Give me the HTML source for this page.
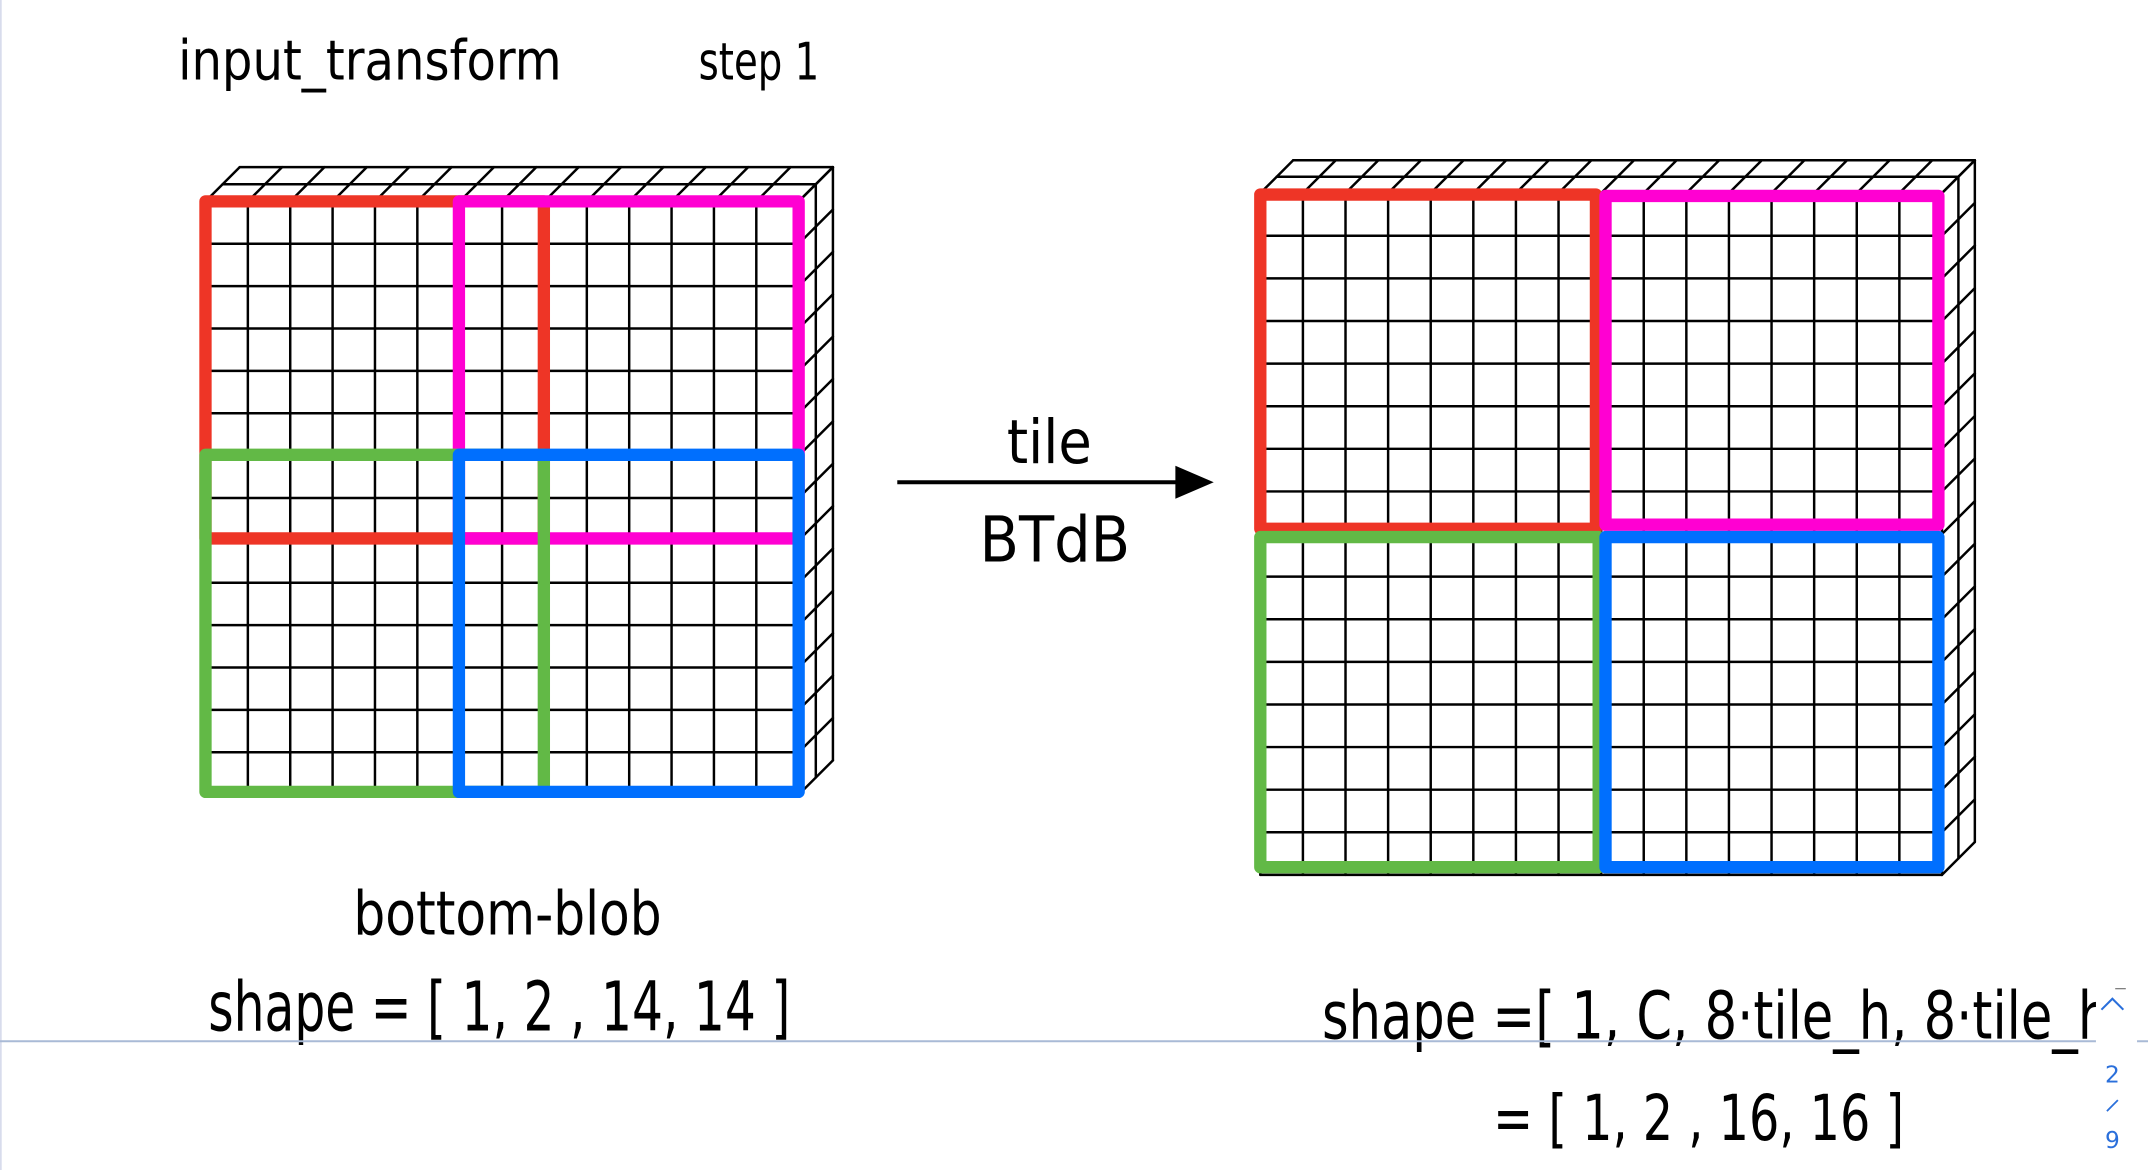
<!DOCTYPE html>
<html><head><meta charset="utf-8">
<style>
html,body{margin:0;padding:0;background:#fff;}
svg{display:block;}
text{font-family:"DejaVu Sans","Liberation Sans",sans-serif;fill:#000;}
</style></head>
<body>
<svg id="s" width="2148" height="1170" viewBox="0 0 1568 854" preserveAspectRatio="none">
<rect x="0" y="0" width="1568" height="854" fill="#fff"/>
<line x1="0.5" y1="0" x2="0.5" y2="854" stroke="#d8dcec" stroke-width="1.5"/>
<g id="grids"></g>
<g id="boxes"></g>
<text x="130" y="58" font-size="40" textLength="280" lengthAdjust="spacingAndGlyphs">input_transform</text>
<text x="510" y="58" font-size="38" textLength="88" lengthAdjust="spacingAndGlyphs">step 1</text>
<text x="735" y="338" font-size="44" textLength="62" lengthAdjust="spacingAndGlyphs">tile</text>
<line x1="655" y1="352" x2="862" y2="352" stroke="#000" stroke-width="3"/>
<polygon points="858,340 886,352 858,364" fill="#000"/>
<text x="715" y="410" font-size="46" textLength="110" lengthAdjust="spacingAndGlyphs">BTdB</text>
<text x="258" y="682" font-size="44" textLength="225" lengthAdjust="spacingAndGlyphs">bottom-blob</text>
<text x="152" y="752" font-size="50" textLength="425" lengthAdjust="spacingAndGlyphs">shape = [ 1, 2 , 14, 14 ]</text>
<text x="965" y="758" font-size="48" textLength="590" lengthAdjust="spacingAndGlyphs">shape =[ 1, C, 8·tile_h, 8·tile_h]</text>
<text x="1090" y="832" font-size="46" textLength="300" lengthAdjust="spacingAndGlyphs">= [ 1, 2 , 16, 16 ]</text>
<line x1="0" y1="760" x2="1568" y2="760" stroke="#a9bad6" stroke-width="1.5"/>
<rect x="1530" y="722" width="30" height="132" fill="#fff"/>
<polyline points="1534,737 1542,729 1550,737" fill="none" stroke="#2a6fdb" stroke-width="1.5"/>
<text x="1542" y="790" font-size="17" text-anchor="middle" style="fill:#2a6fdb">2</text>
<line x1="1538" y1="811" x2="1546" y2="803" stroke="#2a6fdb" stroke-width="1.3"/>
<text x="1542" y="838" font-size="17" text-anchor="middle" style="fill:#2a6fdb">9</text>
</svg>
<script>
const NS='http://www.w3.org/2000/svg';
const gridSpecs=[{name:'input-grid',x:150,y:147,n:14,c:30.93,d:12.5},{name:'output-grid',x:920,y:141,n:16,c:31.1,d:12}];
const boxSpecs=[
 {name:'left-tile-red',col:'#ee3526',x1:150,y1:147,x2:397,y2:393},
 {name:'left-tile-magenta',col:'#ff00d2',x1:335,y1:147,x2:583,y2:393},
 {name:'left-tile-green',col:'#62b946',x1:150,y1:332,x2:397,y2:578},
 {name:'left-tile-blue',col:'#006ffe',x1:335,y1:332,x2:583,y2:578},
 {name:'right-tile-red',col:'#ee3526',x1:920,y1:142,x2:1165,y2:386},
 {name:'right-tile-magenta',col:'#ff00d2',x1:1172,y1:143,x2:1415,y2:383},
 {name:'right-tile-green',col:'#62b946',x1:920,y1:392,x2:1167,y2:633},
 {name:'right-tile-blue',col:'#006ffe',x1:1172,y1:392,x2:1415,y2:633}];
function ln(g,x1,y1,x2,y2,w,col){const l=document.createElementNS(NS,'line');
l.setAttribute('x1',x1);l.setAttribute('y1',y1);l.setAttribute('x2',x2);l.setAttribute('y2',y2);
l.setAttribute('stroke',col||'#000');l.setAttribute('stroke-width',w||1.8);l.setAttribute('stroke-linecap','round');g.appendChild(l);return l;}
const G=document.getElementById('grids');
gridSpecs.forEach(s=>{
 const g=document.createElementNS(NS,'g');
 
 
 G.appendChild(g);
 const W=s.n*s.c, D=s.d;
 for(let i=0;i<=s.n;i++){
  ln(g,s.x+i*s.c,s.y,s.x+i*s.c,s.y+W);
  ln(g,s.x,s.y+i*s.c,s.x+W,s.y+i*s.c);
  ln(g,s.x+i*s.c,s.y,s.x+i*s.c+2*D,s.y-2*D);
  ln(g,s.x+W,s.y+i*s.c,s.x+W+2*D,s.y+i*s.c-2*D);
 }
 for(let k=1;k<=2;k++){
  ln(g,s.x+k*D,s.y-k*D,s.x+W+k*D,s.y-k*D);
  ln(g,s.x+W+k*D,s.y-k*D,s.x+W+k*D,s.y+W-k*D);
 }
});
const B=document.getElementById('boxes');
boxSpecs.forEach(b=>{
 const r=document.createElementNS(NS,'rect');
 r.setAttribute('x',b.x1);r.setAttribute('y',b.y1);r.setAttribute('width',b.x2-b.x1);r.setAttribute('height',b.y2-b.y1);
 r.setAttribute('fill','none');r.setAttribute('stroke',b.col);r.setAttribute('stroke-width',9);r.setAttribute('stroke-linejoin','round');
 
 
 B.appendChild(r);
});
</script>
</body></html>
